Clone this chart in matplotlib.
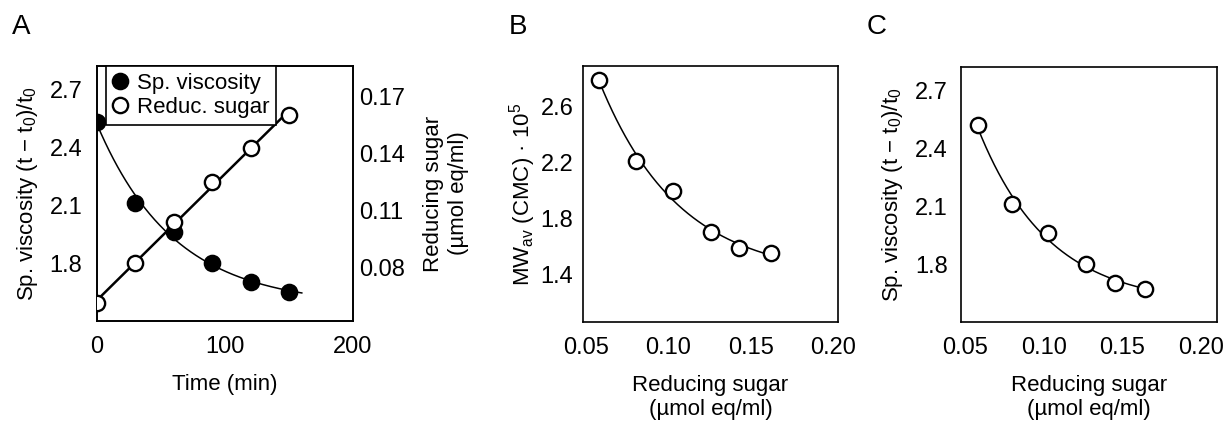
import numpy as np
import matplotlib
matplotlib.use("Agg")
import matplotlib.pyplot as plt

time_min = [0, 30, 60, 90, 120, 150]
visc_a = [2.53, 2.11, 1.96, 1.80, 1.70, 1.65]
sugar_a = [0.061, 0.082, 0.104, 0.125, 0.143, 0.160]

sugar_b = [0.058, 0.080, 0.103, 0.126, 0.143, 0.162]
mw_b = [2.79, 2.21, 2.00, 1.70, 1.59, 1.55]

sugar_c = [0.058, 0.080, 0.103, 0.127, 0.145, 0.164]
visc_c = [2.52, 2.11, 1.96, 1.80, 1.70, 1.67]

plt.rcParams["font.family"] = ["Liberation Sans", "DejaVu Sans"]
plt.rcParams["font.size"] = 16
plt.rcParams["xtick.labelsize"] = 17
plt.rcParams["ytick.labelsize"] = 17
plt.rcParams["mathtext.default"] = "regular"

VISC_LABEL = "Sp. viscosity (t \u2212 t$_0$)/t$_0$"
SUGAR_LABEL = "Reducing sugar\n(\u00b5mol eq/ml)"


def fit_exp(x, y):
    """y = c + a*exp(-k x), k per Gittersuche, c/a linear."""
    x = np.asarray(x, float)
    y = np.asarray(y, float)
    best = None
    scale = 1.0 / (x.max() - x.min())
    for k in np.linspace(0.05, 10, 2000) * scale:
        M = np.column_stack([np.ones_like(x), np.exp(-k * x)])
        coef, *_ = np.linalg.lstsq(M, y, rcond=None)
        err = np.sum((M @ coef - y) ** 2)
        if best is None or err < best[0]:
            best = (err, k, coef)
    _, k, (c, a) = best
    return lambda t: c + a * np.exp(-k * np.asarray(t))


def style(ax):
    for s in ax.spines.values():
        s.set_linewidth(1.2)
    ax.tick_params(length=0)


W, H = 1227, 421
fig = plt.figure(figsize=(W / 100, H / 100), dpi=100)


def add_axes(left, right, top=66, bottom=321):
    return fig.add_axes([left / W, (H - bottom) / H, (right - left) / W, (bottom - top) / H])


mk = dict(marker="o", markersize=11, markeredgewidth=1.7, markeredgecolor="black",
          linestyle="none", zorder=5)

# --- A ---
ax = add_axes(97, 353)
ax2 = ax.twinx()
f = fit_exp(time_min, visc_a)
tt = np.linspace(0, 160, 200)
ax.plot(tt, f(tt), color="black", lw=1.1)
h1, = ax.plot(time_min, visc_a, markerfacecolor="black", **mk)
slope, icpt = np.polyfit(time_min, sugar_a, 1)
tl = np.array([time_min[0], time_min[-1]])
ax2.plot(tl, icpt + slope * tl, color="black", lw=1.8)
h2, = ax2.plot(time_min, sugar_a, markerfacecolor="white", **mk)
ax.set_xlim(0, 200)
ax.set_ylim(1.5, 2.82)
ax.set_xticks([0, 100, 200])
ax.set_yticks([1.8, 2.1, 2.4, 2.7])
ax.set_yticklabels(["1.8", "2.1", "2.4", "2.7"])
ax2.set_ylim(0.0516, 0.186)
ax2.set_yticks([0.08, 0.11, 0.14, 0.17])
ax2.set_yticklabels(["0.08", "0.11", "0.14", "0.17"])
style(ax)
style(ax2)
ax.tick_params(axis="y", pad=10.5)
ax.tick_params(axis="x", pad=11)
ax2.tick_params(axis="y", pad=4.5)
ax.set_xlabel("Time (min)", labelpad=11)
ax.set_ylabel(VISC_LABEL, labelpad=7)
ax2.set_ylabel(SUGAR_LABEL, labelpad=13)
leg = ax2.legend([h1, h2], ["Sp. viscosity", "Reduc. sugar"], loc="upper left",
                 bbox_to_anchor=(0.035, 1.0), fontsize=16, handlelength=0.7,
                 handletextpad=0.4, borderaxespad=0, borderpad=0.3,
                 labelspacing=0.15, fancybox=False, framealpha=1)
leg.get_frame().set_edgecolor("black")
leg.get_frame().set_linewidth(1.2)

# --- B ---
bx = add_axes(583, 838, bottom=322)
f = fit_exp(sugar_b, mw_b)
xs = np.linspace(sugar_b[0], sugar_b[-1], 200)
bx.plot(xs, f(xs), color="black", lw=1.1)
bx.plot(sugar_b, mw_b, markerfacecolor="white", **mk)
bx.set_xlim(0.048, 0.203)
bx.set_ylim(1.06, 2.89)
bx.set_xticks([0.05, 0.10, 0.15, 0.20])
bx.set_xticklabels(["0.05", "0.10", "0.15", "0.20"])
bx.set_yticks([1.4, 1.8, 2.2, 2.6])
bx.set_yticklabels(["1.4", "1.8", "2.2", "2.6"])
style(bx)
bx.tick_params(axis="y", pad=7)
bx.tick_params(axis="x", pad=11)
bx.set_xlabel(SUGAR_LABEL, labelpad=11)
bx.set_ylabel("MW$_{av}$ (CMC) \u00b7 10$^5$", labelpad=2)

# --- C ---
cx = add_axes(961, 1217, top=67, bottom=322)
f = fit_exp(sugar_c, visc_c)
xs = np.linspace(sugar_c[0], sugar_c[-1], 200)
cx.plot(xs, f(xs), color="black", lw=1.1)
cx.plot(sugar_c, visc_c, markerfacecolor="white", **mk)
cx.set_xlim(0.0475, 0.21)
cx.set_ylim(1.5, 2.82)
cx.set_xticks([0.05, 0.10, 0.15, 0.20])
cx.set_xticklabels(["0.05", "0.10", "0.15", "0.20"])
cx.set_yticks([1.8, 2.1, 2.4, 2.7])
cx.set_yticklabels(["1.8", "2.1", "2.4", "2.7"])
style(cx)
cx.tick_params(axis="y", pad=9.5)
cx.tick_params(axis="x", pad=11)
cx.set_xlabel(SUGAR_LABEL, labelpad=11)
cx.set_ylabel(VISC_LABEL, labelpad=7)

# Panelbuchstaben
for lbl, xp in [("A", 12), ("B", 509), ("C", 867)]:
    fig.text(xp / W, 1 - 14 / H, lbl, fontsize=20, ha="left", va="top")

fig.savefig("out.png", dpi=100)
plt.close(fig)
